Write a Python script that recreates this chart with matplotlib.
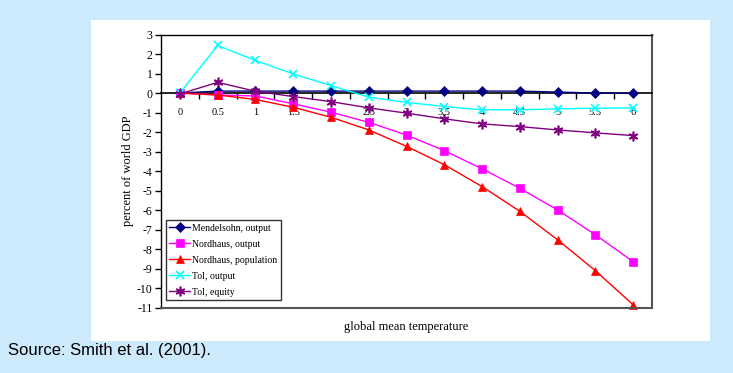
import numpy as np
import matplotlib
matplotlib.use("Agg")
import matplotlib.pyplot as plt

# ---------- Data ----------
temps = [0, 0.5, 1, 1.5, 2, 2.5, 3, 3.5, 4, 4.5, 5, 5.5, 6]
temp_labels = ["0", "0.5", "1", "1.5", "2", "2.5", "3", "3.5", "4", "4.5", "5", "5.5", "6"]

mendelsohn_output = [0.0, 0.1, 0.1, 0.1, 0.1, 0.1, 0.1, 0.1, 0.1, 0.1, 0.05, 0.0, -0.02]
nordhaus_output = [0.0, -0.1, -0.15, -0.55, -0.98, -1.5, -2.15, -2.95, -3.88, -4.88, -5.99, -7.26, -8.64]
nordhaus_population = [0.0, -0.1, -0.33, -0.73, -1.24, -1.89, -2.73, -3.67, -4.79, -6.06, -7.52, -9.1, -10.85]
tol_output = [0.0, 2.44, 1.67, 0.98, 0.38, -0.21, -0.48, -0.69, -0.86, -0.86, -0.81, -0.78, -0.76]
tol_equity = [-0.05, 0.55, 0.09, -0.18, -0.44, -0.76, -1.03, -1.32, -1.58, -1.72, -1.89, -2.04, -2.18]

series = [
    ("Mendelsohn, output", mendelsohn_output, "#000080", "D", 5),
    ("Nordhaus, output", nordhaus_output, "#ff00ff", "s", 6),
    ("Nordhaus, population", nordhaus_population, "#ff0000", "^", 6),
    ("Tol, output", tol_output, "#00ffff", "x", 6),
    ("Tol, equity", tol_equity, "#800080", (6, 2, 0), 7),
]

serif = ["Liberation Serif", "DejaVu Serif"]
bg = "#cde9fc"

# ---------- Figure ----------
fig = plt.figure(figsize=(7.33, 3.73), dpi=100)
fig.patch.set_facecolor(bg)

# white panel behind the chart
panel = plt.Rectangle((91 / 733, 1 - 341 / 373), (710 - 91) / 733, (341 - 20) / 373,
                      transform=fig.transFigure, facecolor="white", edgecolor="none", zorder=-5)
fig.patches.append(panel)

ax = fig.add_axes([161 / 733, 1 - 307.7 / 373, (652 - 161) / 733, (307.7 - 34.5) / 373])
ax.set_zorder(2)
ax.set_facecolor("white")

for name, vals, col, mk, ms in series:
    ax.plot(temps, vals, color=col, marker=mk, markersize=ms, linewidth=1,
            markeredgewidth=1.2 if mk in ("x",) or isinstance(mk, tuple) else 0.5,
            markeredgecolor=col, label=name, clip_on=False, zorder=3)

ax.set_xlim(-0.25, 6.25)
ax.set_ylim(-11, 3)
ax.set_yticks(np.arange(-11, 4, 1))
ax.set_yticklabels([str(v) for v in range(-11, 4)], fontfamily=serif, fontsize=8.5)

# x axis sits on y = 0, ticks between categories
ax.spines["bottom"].set_position(("data", 0))
ax.spines["bottom"].set_linewidth(1.2)
ax.set_xticks(temps)
ax.set_xticklabels(temp_labels, fontfamily=serif, fontsize=7.5)
ax.set_xticks(np.arange(0.25, 6.0, 0.5), minor=True)
ax.tick_params(axis="x", which="major", length=0, pad=11)
ax.tick_params(axis="x", which="minor", length=4, direction="out", width=1)
ax.tick_params(axis="y", length=4, width=1, pad=2)

for s in ("left", "top"):
    ax.spines[s].set_linewidth(1)
ax.spines["right"].set_linewidth(1.5)
ax.spines["right"].set_color("#555555")
# bottom frame line
ax.plot([0, 1], [0, 0], transform=ax.transAxes, color="#555555", linewidth=1.5,
        clip_on=False, zorder=4)

ax.set_ylabel("percent of world GDP", fontfamily=serif, fontsize=9, labelpad=2)
fig.text(406.5 / 733, 1 - 327 / 373, "global mean temperature", fontfamily=serif,
         fontsize=9, ha="center", va="center")

leg = ax.legend(loc="lower left", bbox_to_anchor=(0.01, 0.028), prop={"family": serif, "size": 7},
                frameon=True, fancybox=False, edgecolor="black", borderpad=0.35,
                labelspacing=0.72, handlelength=2.1, handletextpad=0.25, borderaxespad=0)
leg.get_frame().set_linewidth(1)

fig.text(8 / 733, 1 - 351 / 373, "Source: Smith et al. (2001).", fontfamily="Liberation Sans",
         fontsize=12, ha="left", va="center")

fig.savefig("out.png", dpi=100, facecolor=fig.get_facecolor())
